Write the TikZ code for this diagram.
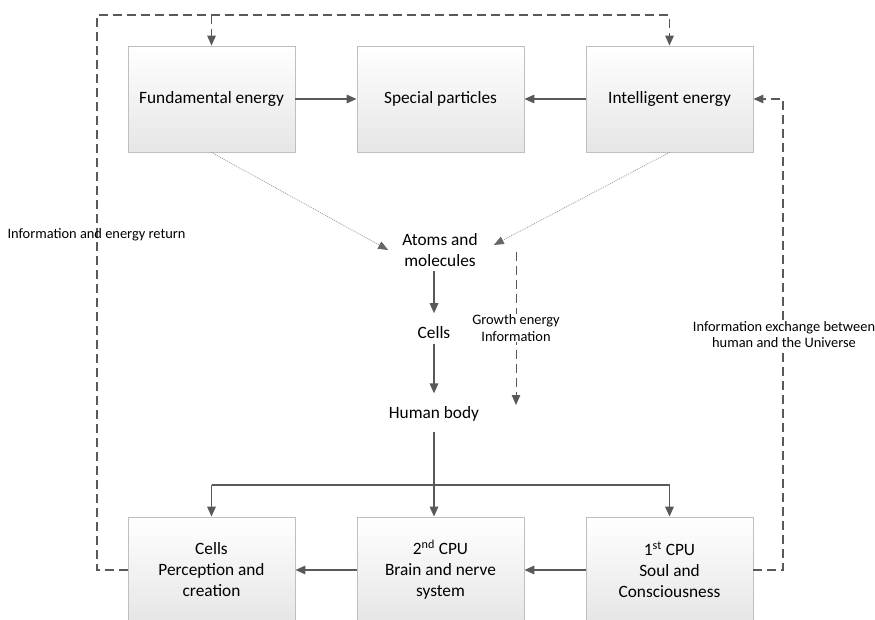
\documentclass[tikz,border=0pt]{standalone}
\usepackage{fontspec}
\setmainfont{Carlito}
\usetikzlibrary{arrows.meta}

\begin{document}
\begin{tikzpicture}[x=1pt,y=-1pt]
\tikzset{box/.style={draw=black!25,line width=0.8pt,top color=white,bottom color=black!10,minimum width=167pt,minimum height=106pt,align=center,font=\fontsize{17.3}{21}\selectfont},
lbl/.style={inner sep=0pt,align=center,font=\fontsize{17.3}{21}\selectfont},
note/.style={inner sep=1pt,align=center,font=\fontsize{14.4}{16.5}\selectfont},
tip/.style={-{Triangle[length=10pt,width=8.5pt]}},
arr/.style={draw=black!65,line width=1.6pt,tip},
ret/.style={draw=black!65,line width=1.3pt,dash pattern=on 9pt off 5pt},
feed/.style={draw=black!40,line width=0.7pt,dash pattern=on 1pt off 1pt,-{Triangle[length=10pt,width=8pt,color=black!60]}}}
\useasboundingbox (0,0) rectangle (875,620);

\node[box] (fund) at (211.5,99) {Fundamental energy};
\node[box] (spec) at (440.5,99) {Special particles};
\node[box] (intel) at (669.5,99) {Intelligent energy};
\node[box] (cellb) at (211.5,570) {Cells\\Perception and\\creation};
\node[box] (cpu2) at (440.5,570) {2\textsuperscript{nd} CPU\\Brain and nerve\\system};
\node[box] (cpu1) at (669.5,570) {1\textsuperscript{st} CPU\\Soul and\\Consciousness};

\node[lbl] (atoms) at (440,250) {Atoms and\\molecules};
\node[lbl] (cells) at (434,332.5) {Cells};
\node[lbl] (human) at (434,414) {Human body};

\coordinate (lc) at (97,15);
\coordinate (rc) at (783,99);
\coordinate (bus) at (0,485);
\coordinate (g1) at (516,252);
\coordinate (g2) at (516,405);

\draw[arr] (fund) -- (spec);
\draw[arr] (intel) -- (spec);
\draw[arr] (cpu1) -- (cpu2);
\draw[arr] (cpu2) -- (cellb);

\draw[feed] (fund.south) -- ([xshift=-14pt]atoms.west);
\draw[feed] (intel.south) -- ([xshift=16pt,yshift=5pt]atoms.east);

\draw[arr,shorten <=4pt,shorten >=13pt] (atoms.south -| cells) -- (cells.north);
\draw[arr,shorten <=5pt,shorten >=13pt] (cells) -- (human);
\draw[arr,shorten <=10pt] (human) -- (human |- cpu2.north);
\draw[arr] (cellb.north |- bus) -- (cpu1.north |- bus) -- (cpu1.north);
\draw[arr] (cellb.north |- bus) -- (cellb.north);

\draw[ret,tip] (cellb.west) -| (lc) -| (intel.north);
\draw[ret,tip] (fund.north |- lc) -- (fund.north);
\draw[ret,tip] (cpu1.east) -| (rc) -- (intel.east);
\draw[ret,line width=1pt,tip] (g1) -- (g2);

\node[note,fill=white] (grow) at (516,328) {Growth energy\\Information};
\node[note] (back) at (96.5,235) {Information and energy return};
\node[note,fill=white] (exch) at (784,334.5) {Information exchange between\\human and the Universe};
\end{tikzpicture}
\end{document}
